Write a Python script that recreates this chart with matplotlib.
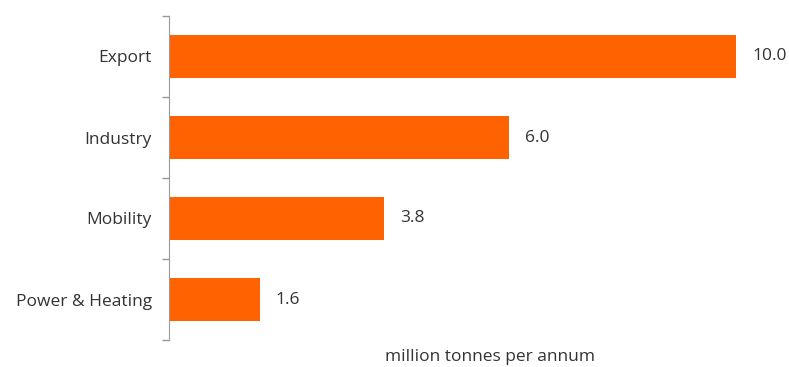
import matplotlib
matplotlib.use("Agg")
import matplotlib.pyplot as plt

categories = ["Export", "Industry", "Mobility", "Power & Heating"]
values = [10.0, 6.0, 3.8, 1.6]

ORANGE = "#ff6200"
TEXT = "#333333"
plt.rcParams["font.family"] = ["Open Sans", "DejaVu Sans"]

fig = plt.figure(figsize=(7.89, 3.67), dpi=100)
W, H = 789, 367
# axes in pixel coords: left 169, right 789, top 16, bottom 340
ax = fig.add_axes([169 / W, 1 - 340 / H, 620 / W, 324 / H])

y = list(range(len(categories)))
ax.barh(y, values, height=0.54, color=ORANGE)
ax.set_ylim(len(categories) - 0.5, -0.5)
ax.set_xlim(0, 620 / 56.7)

FS = 12.5
for yi, v in zip(y, values):
    ax.annotate(f"{v:.1f}", (v, yi), textcoords="offset points", xytext=(11.5, 0),
                va="center", ha="left", fontsize=FS, color=TEXT)

# category labels centred on bars, tick marks at boundaries
ax.set_yticks(y)
ax.set_yticklabels(categories, fontsize=FS, color=TEXT)
ax.tick_params(axis="y", which="major", length=0, pad=12.5)
ax.set_yticks([i - 0.5 for i in range(len(categories) + 1)], minor=True)
ax.tick_params(axis="y", which="minor", length=5, color="#999999", width=1)

ax.set_xticks([])
for s in ("top", "right", "bottom"):
    ax.spines[s].set_visible(False)
ax.spines["left"].set_color("#999999")

fig.text(490 / W, 1 - 357 / H, "million tonnes per annum", ha="center", va="center",
         fontsize=FS, color=TEXT)

fig.savefig("out.png", dpi=100)
